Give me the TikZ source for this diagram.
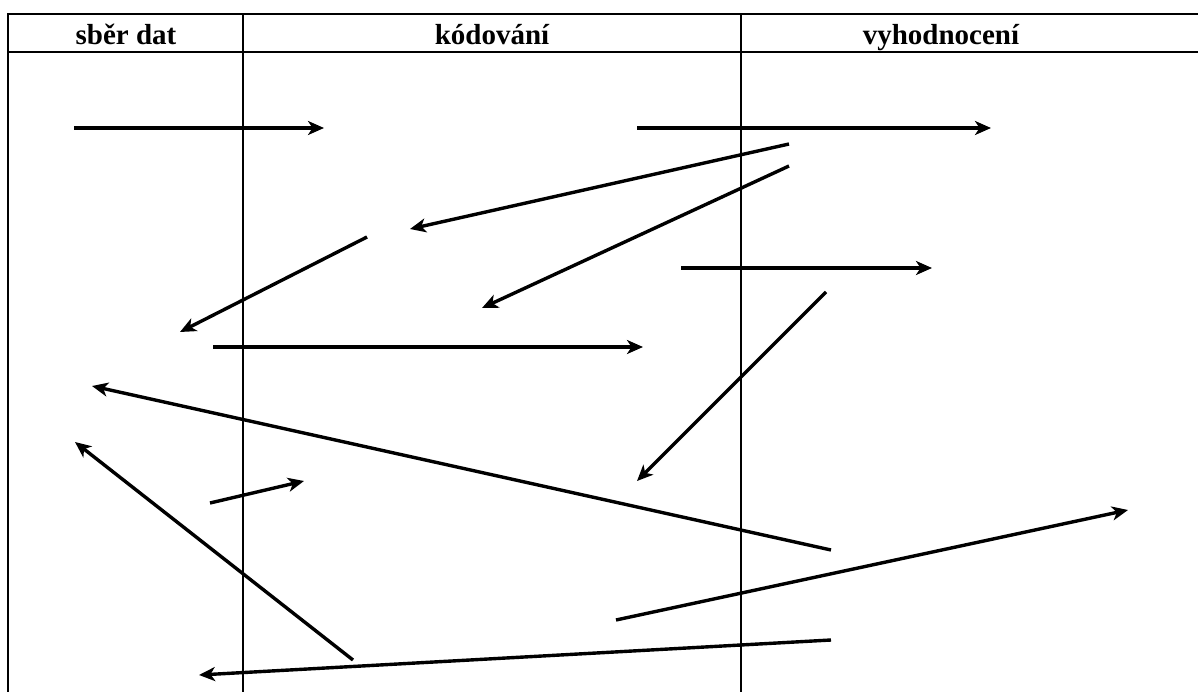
\documentclass[tikz,border=0pt]{standalone}
\usepackage{fontspec}
\setmainfont{Liberation Serif}
\usetikzlibrary{arrows.meta}
\begin{document}
\begin{tikzpicture}[x=1pt,y=-1pt,
  frame/.style={line width=2.2pt},
  arr/.style={line width=3.4pt,-{Stealth[length=16pt,width=14pt,inset=4.5pt]}},
  head/.style={font=\fontsize{29}{33}\selectfont\bfseries,inner sep=0pt,anchor=base}]
\useasboundingbox (0,0) rectangle (1198,692);
% table frame
\draw[frame] (8,692) -- (8,14) -- (1198,14);
\draw[frame] (8,52) -- (1198,52);
\draw[frame] (243,14) -- (243,692);
\draw[frame] (741,14) -- (741,692);
% headers
\node[head] (h1) at (126,45) {sběr dat};
\node[head] (h2) at (492,45) {kódování};
\node[head] (h3) at (941,45) {vyhodnocení};
% arrow end points
\coordinate (a1s) at (74,128);  \coordinate (a1e) at (324,128);
\coordinate (a2s) at (637,128); \coordinate (a2e) at (991,128);
\coordinate (a3s) at (789,144); \coordinate (a3e) at (410,229);
\coordinate (a4s) at (789,166); \coordinate (a4e) at (482,308);
\coordinate (a5s) at (367,237); \coordinate (a5e) at (180,332);
\coordinate (a6s) at (681,268); \coordinate (a6e) at (932,268);
\coordinate (a7s) at (213,347); \coordinate (a7e) at (643,347);
\coordinate (a8s) at (826,292); \coordinate (a8e) at (637,481);
\coordinate (a9s) at (831,550); \coordinate (a9e) at (92,386);
\coordinate (a10s) at (210,503); \coordinate (a10e) at (304,481);
\coordinate (a11s) at (353,660); \coordinate (a11e) at (75,442);
\coordinate (a12s) at (616,620); \coordinate (a12e) at (1128,510);
\coordinate (a13s) at (831,640); \coordinate (a13e) at (199,675);
\foreach \i in {1,...,13} {\draw[arr] (a\i s) -- (a\i e);}
\end{tikzpicture}
\end{document}
